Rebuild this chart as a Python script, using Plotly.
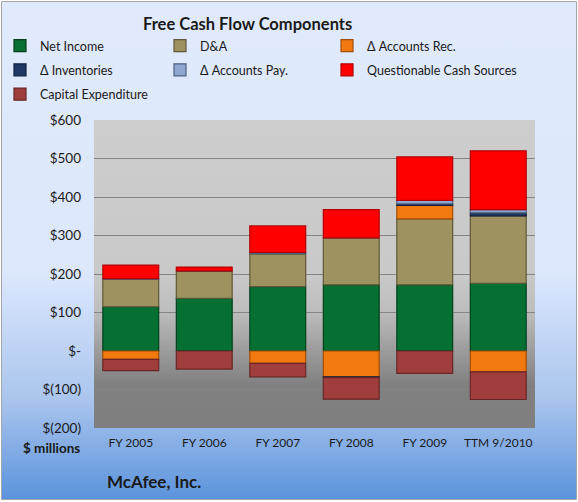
import base64
import plotly.graph_objects as go

categories = ["FY 2005", "FY 2006", "FY 2007", "FY 2008", "FY 2009", "TTM 9/2010"]
net_income = [115, 137, 167, 172, 172, 176]
dna = [71, 71, 86, 122, 171, 175]
accounts_rec = [-22, 0, -32, -67, 35, -54]
inventories = [0, 0, 0, -2, 4, 8]
accounts_pay = [2, 0, 3, 0, 9, 8]
questionable = [35, 10, 69, 73, 113, 153]
capex = [-29, -47, -35, -56, -58, -72]

tick_vals = [600, 500, 400, 300, 200, 100, 0, -100, -200]
tick_text = ["$600", "$500", "$400", "$300", "$200", "$100", "$-", "$(100)", "$(200)"]

# name, values, fill, edge, legend column
series = [
    ("Net Income", net_income, "#067033", "#04401e", "legend"),
    ("D&A", dna, "#9d9260", "#5f5838", "legend2"),
    ("Δ Accounts Rec.", accounts_rec, "#f2790f", "#a34e06", "legend3"),
    ("Δ Inventories", inventories, "#1f3864", "#12223e", "legend"),
    ("Δ Accounts Pay.", accounts_pay, "#8fa6d1", "#4e607e", "legend2"),
    ("Questionable Cash Sources", questionable, "#ff0000", "#b30000", "legend3"),
    ("Capital Expenditure", capex, "#a03e3e", "#6a2525", "legend"),
]

W, H = 578, 502
L, R, T, B = 94, 43, 120, 74
PW, PH = W - L - R, H - T - B
FONT = "Lato"

fig = go.Figure()
for name, vals, col, edge, leg in series:
    fig.add_trace(go.Bar(
        name=name, x=categories, y=vals, legend=leg, legendgroup=name,
        marker=dict(color=col, line=dict(color=edge, width=1.2)),
    ))


def svg_grad(stops):
    st = "".join(f'<stop offset="{o}" stop-color="{c}"/>' for o, c in stops)
    svg = ('<svg xmlns="http://www.w3.org/2000/svg" width="100" height="100" preserveAspectRatio="none">'
           '<defs><linearGradient id="g" x1="0" y1="0" x2="0" y2="1">' + st +
           '</linearGradient></defs><rect width="100" height="100" fill="url(#g)"/></svg>')
    return "data:image/svg+xml;base64," + base64.b64encode(svg.encode()).decode()


def px2x(px):
    return (px - L) / PW


def py2y(py):
    return (H - B - py) / PH


outer = svg_grad([(0, "#e0eafc"), (0.54, "#dce7fb"), (0.6, "#d1e0fb"),
                  (0.8, "#aac5ed"), (1, "#5b93dc")])
inner = svg_grad([(0, "#cdcdcd"), (0.5, "#c9c9c9"), (0.62, "#bdbdbd"),
                  (0.86, "#808080"), (1, "#7f7f7f")])

leg_common = dict(
    orientation="v", xref="container", yref="container",
    y=1 - 31 / H, xanchor="left", yanchor="top",
    bgcolor="rgba(0,0,0,0)", font=dict(family=FONT, size=12.5, color="#1a1a1a"),
    traceorder="grouped", tracegroupgap=5,
)

fig.update_layout(
    images=[
        dict(source=outer, xref="paper", yref="paper", x=px2x(2), y=py2y(2),
             sizex=(576 - 2) / PW, sizey=(499 - 2) / PH, sizing="stretch",
             xanchor="left", yanchor="top", layer="below"),
        dict(source=inner, xref="paper", yref="paper", x=0, y=1,
             sizex=1, sizey=1, sizing="stretch",
             xanchor="left", yanchor="top", layer="below"),
    ],
    shapes=[
        dict(type="rect", xref="paper", yref="paper", x0=px2x(1.5), x1=px2x(576.5),
             y0=py2y(499.5), y1=py2y(1.5), line=dict(color="#a6a6a6", width=1), layer="below"),
    ],
)

fig.update_layout(
    width=W, height=H,
    margin=dict(l=L, r=R, t=T, b=B, autoexpand=False),
    paper_bgcolor="white",
    plot_bgcolor="rgba(0,0,0,0)",
    barmode="relative",
    bargap=0.24,
    font=dict(family=FONT, size=12, color="#1a1a1a"),
    showlegend=True,
    legend=dict(leg_common, x=0.0),
    legend2=dict(leg_common, x=160 / W),
    legend3=dict(leg_common, x=327 / W),
    xaxis=dict(
        showgrid=False, showline=False, ticks="", tickfont=dict(size=12),
        ticklabelstandoff=6,
    ),
    yaxis=dict(
        range=[-200, 600], tickvals=tick_vals, ticktext=tick_text,
        showgrid=True, gridcolor="#858585", gridwidth=1,
        zeroline=True, zerolinecolor="#9a9a9a", zerolinewidth=1,
        tickfont=dict(size=13.5), ticks="", ticklabelstandoff=12,
    ),
    annotations=[
        dict(text="<b>Free Cash Flow Components</b>", xref="paper", yref="paper",
             x=px2x(247), y=py2y(24), xanchor="center", yanchor="middle",
             showarrow=False, font=dict(family=FONT, size=16.5, color="#1a1a1a")),
        dict(text="<b>$ millions</b>", xref="paper", yref="paper",
             x=px2x(82), y=py2y(448), xanchor="right", yanchor="middle",
             showarrow=False, font=dict(family=FONT, size=13.5, color="#1a1a1a")),
        dict(text="<b>McAfee, Inc.</b>", xref="paper", yref="paper",
             x=px2x(105), y=py2y(481), xanchor="left", yanchor="middle",
             showarrow=False, font=dict(family=FONT, size=17, color="#1a1a1a")),
    ],
)

fig.write_html("out.html")
